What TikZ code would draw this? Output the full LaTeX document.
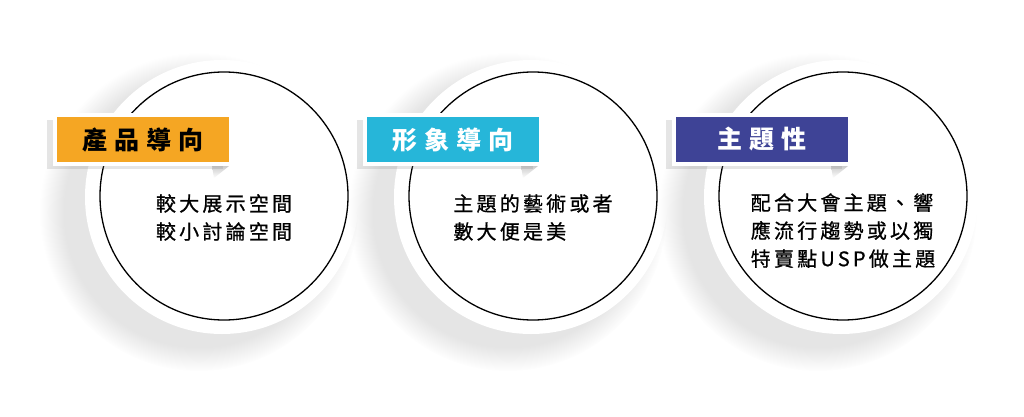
\documentclass[tikz,border=0pt]{standalone}
\usepackage{fontspec}
\newfontfamily\cjk[LetterSpace=16,FakeBold=0.8]{Noto Sans CJK TC}
\newfontfamily\cjklabel[LetterSpace=28]{Noto Sans CJK TC}
\usetikzlibrary{shadows}
\definecolor{orangetag}{RGB}{245,166,35}
\definecolor{cyantag}{RGB}{38,182,217}
\definecolor{bluetag}{RGB}{62,67,150}
\tikzstyle{disc}=[circle,fill=white,minimum size=274pt,inner sep=0pt,circular drop shadow={shadow xshift=-20pt,shadow yshift=-13pt,shadow scale=1.16,opacity=.2}]
\tikzstyle{ring}=[circle,draw=black,line width=1.3pt,minimum size=248pt,inner sep=0pt]
\tikzstyle{tag}=[rectangle,draw=white,line width=4pt,minimum width=176pt,minimum height=49pt,inner sep=0pt,font={\cjklabel\bfseries\fontsize{25}{25}\selectfont},drop shadow={shadow xshift=-8pt,shadow yshift=-5pt,opacity=.2}]
\tikzstyle{body}=[align=left,anchor=north,inner sep=0pt,font={\cjk\fontsize{20}{28}\selectfont}]
\tikzstyle{fold}=[top color=gray!40,bottom color=white]

\begin{document}
\begin{tikzpicture}[x=1pt,y=-1pt]
    \useasboundingbox[fill=white] (0,0) rectangle (1024,417);

    \node (d1) at (222,197) [disc] {};
    \node (d2) at (531,197) [disc] {};
    \node (d3) at (841,197) [disc] {};

    \node (c1) at (224,196) [ring] {};
    \node (c2) at (533,196) [ring] {};
    \node (c3) at (843,196) [ring] {};

    \shade [fold] (229,166) -- (212,166) -- (214,178) -- cycle;
    \shade [fold] (538,166) -- (521,166) -- (523,178) -- cycle;
    \shade [fold] (848,166) -- (831,166) -- (833,178) -- cycle;

    \node (t1) at (143,139.5) [tag,fill=orangetag,text=black] {產品導向};
    \node (t2) at (452.5,139.5) [tag,fill=cyantag,text=white] {形象導向};
    \node (t3) at (762,139.5) [tag,fill=bluetag,text=white] {主題性};

    \node (b1) at (224,194) [body] {較大展示空間\\較小討論空間};
    \node (b2) at (533,194) [body] {主題的藝術或者\\數大便是美};
    \node (b3) at (843,193) [body] {配合大會主題、響\\應流行趨勢或以獨\\特賣點USP做主題};
\end{tikzpicture}
\end{document}
